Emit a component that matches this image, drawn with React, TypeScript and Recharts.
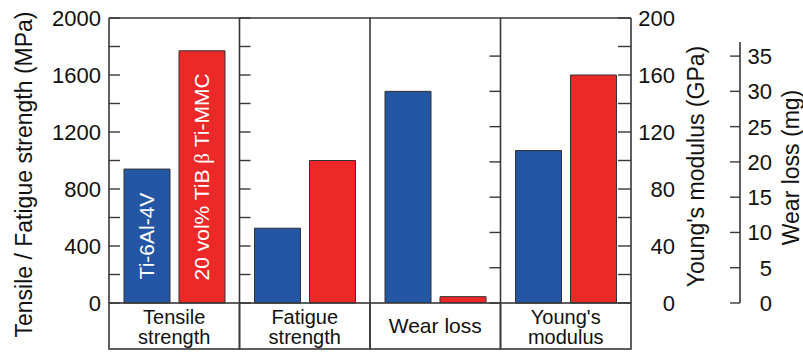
import React from 'react'
import { BarChart, Bar, XAxis, YAxis, CartesianGrid, LabelList } from 'recharts'

const categories = ['Tensile strength', 'Fatigue strength', 'Wear loss', "Young's modulus"]
const categoryLines = [['Tensile', 'strength'], ['Fatigue', 'strength'], ['Wear loss'], ["Young's", 'modulus']]

const seriesNames = ['Ti-6Al-4V', '20 vol% TiB β Ti-MMC']

// tensile / fatigue strength, MPa
const strengthTi64 = [940, 525]
const strengthMmc = [1770, 1000]
// wear loss, mg
const wearTi64 = 30
const wearMmc = 0.9
// Young's modulus, GPa
const modulusTi64 = 107
const modulusMmc = 160

const mpaTicks = [0, 200, 400, 600, 800, 1000, 1200, 1400, 1600, 1800, 2000]
const gpaTicks = [0, 20, 40, 60, 80, 100, 120, 140, 160, 180, 200]
const wearTicks = [0, 5, 10, 15, 20, 25, 30, 35]

const data = [
  { category: categories[0], ti64Mpa: strengthTi64[0], mmcMpa: strengthMmc[0] },
  { category: categories[1], ti64Mpa: strengthTi64[1], mmcMpa: strengthMmc[1] },
  { category: categories[2], ti64Wear: wearTi64, mmcWear: wearMmc },
  { category: categories[3], ti64Gpa: modulusTi64, mmcGpa: modulusMmc },
]

const W = 803
const H = 352
const PLOT_LEFT = 109
const PLOT_TOP = 18
const PLOT_W = 522
const PLOT_H = 285
const BAND = PLOT_W / 4
const BOX_H = 46
const WEAR_MAX = 40.4 // wear scale top, so 35 mg sits below the frame
const WEAR_SPINE = 37

const BLUE = '#2456a3'
const RED = '#ec2829'
const INK = '#383838'
const FONT = '"Liberation Sans", Arial, Helvetica, sans-serif'

const MpaTick = (props: any) => {
  const { x, y, payload } = props
  const v = payload.value
  const divider = PLOT_LEFT + BAND
  return (
    <g>
      <line x1={x} x2={x + 11} y1={y} y2={y} stroke={INK} strokeWidth={1.4} />
      <line x1={divider} x2={divider + 11} y1={y} y2={y} stroke={INK} strokeWidth={1.4} />
      {v % 400 === 0 && (
        <text x={x - 8} y={y} dy="0.36em" textAnchor="end" fontSize={22} fontFamily={FONT} fill="#111">
          {v}
        </text>
      )}
    </g>
  )
}

const GpaTick = (props: any) => {
  const { x, y, payload } = props
  const v = payload.value
  return (
    <g>
      <line x1={x - 13} x2={x} y1={y} y2={y} stroke={INK} strokeWidth={1.4} />
      {v % 40 === 0 && (
        <text x={x + 44} y={y} dy="0.36em" textAnchor="end" fontSize={22} fontFamily={FONT} fill="#111">
          {v}
        </text>
      )}
    </g>
  )
}

const WearTick = (props: any) => {
  const { x, y, payload } = props
  const v = payload.value
  const divider = PLOT_LEFT + 3 * BAND
  const spineTop = PLOT_TOP + PLOT_H * (1 - WEAR_SPINE / WEAR_MAX)
  return (
    <g>
      {v === 0 && <line x1={x} x2={x} y1={y} y2={spineTop} stroke={INK} strokeWidth={1.6} />}
      <line x1={x - 10} x2={x} y1={y} y2={y} stroke={INK} strokeWidth={1.4} />
      <line x1={divider - 11} x2={divider} y1={y} y2={y} stroke={INK} strokeWidth={1.4} />
      <text x={x + 32} y={y} dy="0.36em" textAnchor="end" fontSize={22} fontFamily={FONT} fill="#111">
        {v}
      </text>
    </g>
  )
}

const CategoryTick = (props: any) => {
  const { x, y, index } = props
  const lines = categoryLines[index] ?? []
  return (
    <g>
      <rect x={x - BAND / 2} y={y} width={BAND} height={BOX_H} fill="none" stroke={INK} strokeWidth={1.6} />
      {lines.length === 1 ? (
        <text x={x} y={y + 30} textAnchor="middle" fontSize={21} fontFamily={FONT} fill="#111">
          {lines[0]}
        </text>
      ) : (
        lines.map((line, i) => (
          <text key={i} x={x} y={y + 21 + i * 20} textAnchor="middle" fontSize={20} fontFamily={FONT} fill="#111">
            {line}
          </text>
        ))
      )}
    </g>
  )
}

const axisTitle = (text: string, dx: number, dy: number) => (props: any) => {
  const vb = props.viewBox
  const cx = vb.x + dx
  const cy = vb.y + vb.height / 2 + dy
  return (
    <text
      x={cx}
      y={cy}
      transform={`rotate(-90, ${cx}, ${cy})`}
      textAnchor="middle"
      dominantBaseline="central"
      fontSize={23}
      fontFamily={FONT}
      fill="#111"
    >
      {text}
    </text>
  )
}

// series name written up the tensile strength bars
const barName = (name: string) => (props: any) => {
  if (props.index !== 0) return null
  const cx = props.x + props.width / 2
  const cy = props.y + props.height / 2
  const parts = name.split('β')
  return (
    <text
      x={cx}
      y={cy}
      transform={`rotate(-90, ${cx}, ${cy})`}
      textAnchor="middle"
      dominantBaseline="central"
      fontSize={21}
      fontFamily={FONT}
      fill="#fff"
    >
      {parts.length > 1 ? (
        <>
          {parts[0]}
          <tspan fontFamily='"Liberation Serif", "DejaVu Serif", serif'>β</tspan>
          {parts[1]}
        </>
      ) : (
        name
      )}
    </text>
  )
}

export default function App() {
  return (
    <div style={{ position: 'absolute', left: 0, top: 0, width: W, height: H, background: '#fff' }}>
      <BarChart
        width={W}
        height={H}
        data={data}
        margin={{ top: PLOT_TOP, right: 0, bottom: 0, left: 0 }}
        barCategoryGap={15}
        barGap={9}
      >
        <CartesianGrid
          stroke={INK}
          strokeWidth={1.6}
          strokeDasharray=""
          horizontalCoordinatesGenerator={({ offset }: any) => [offset.top]}
          verticalCoordinatesGenerator={({ offset }: any) =>
            [1, 2, 3].map((k) => offset.left + (offset.width * k) / 4)
          }
        />
        <XAxis
          dataKey="category"
          height={H - PLOT_TOP - PLOT_H}
          axisLine={false}
          tickLine={false}
          tickSize={0}
          tickMargin={0}
          interval={0}
          tick={(p: any) => <CategoryTick {...p} />}
        />
        <YAxis
          yAxisId="mpa"
          orientation="left"
          width={PLOT_LEFT}
          domain={[0, 2000]}
          ticks={mpaTicks}
          interval={0}
          axisLine={{ stroke: INK, strokeWidth: 1.6 }}
          tickLine={false}
          tickSize={0}
          tickMargin={0}
          tick={(p: any) => <MpaTick {...p} />}
          label={{ content: axisTitle('Tensile / Fatigue strength (MPa)', 24, 14) }}
        />
        <YAxis
          yAxisId="gpa"
          orientation="right"
          width={109}
          domain={[0, 200]}
          ticks={gpaTicks}
          interval={0}
          axisLine={{ stroke: INK, strokeWidth: 1.6 }}
          tickLine={false}
          tickSize={0}
          tickMargin={0}
          tick={(p: any) => <GpaTick {...p} />}
          label={{ content: axisTitle("Young's modulus (GPa)", 65, 6) }}
        />
        <YAxis
          yAxisId="wear"
          orientation="right"
          width={63}
          domain={[0, WEAR_MAX]}
          allowDataOverflow
          ticks={wearTicks}
          interval={0}
          axisLine={false}
          tickLine={false}
          tickSize={0}
          tickMargin={0}
          tick={(p: any) => <WearTick {...p} />}
          label={{ content: axisTitle('Wear loss (mg)', 51, 7) }}
        />

        <Bar yAxisId="mpa" dataKey="ti64Mpa" stackId="ti64" fill={BLUE} stroke="#333" strokeWidth={1} isAnimationActive={false}>
          <LabelList content={barName(seriesNames[0])} />
        </Bar>
        <Bar yAxisId="mpa" dataKey="mmcMpa" stackId="mmc" fill={RED} stroke="#333" strokeWidth={1} isAnimationActive={false}>
          <LabelList content={barName(seriesNames[1])} />
        </Bar>
        <Bar yAxisId="wear" dataKey="ti64Wear" stackId="ti64" fill={BLUE} stroke="#333" strokeWidth={1} isAnimationActive={false} />
        <Bar yAxisId="wear" dataKey="mmcWear" stackId="mmc" fill={RED} stroke="#333" strokeWidth={1} isAnimationActive={false} />
        <Bar yAxisId="gpa" dataKey="ti64Gpa" stackId="ti64" fill={BLUE} stroke="#333" strokeWidth={1} isAnimationActive={false} />
        <Bar yAxisId="gpa" dataKey="mmcGpa" stackId="mmc" fill={RED} stroke="#333" strokeWidth={1} isAnimationActive={false} />
      </BarChart>
    </div>
  )
}
